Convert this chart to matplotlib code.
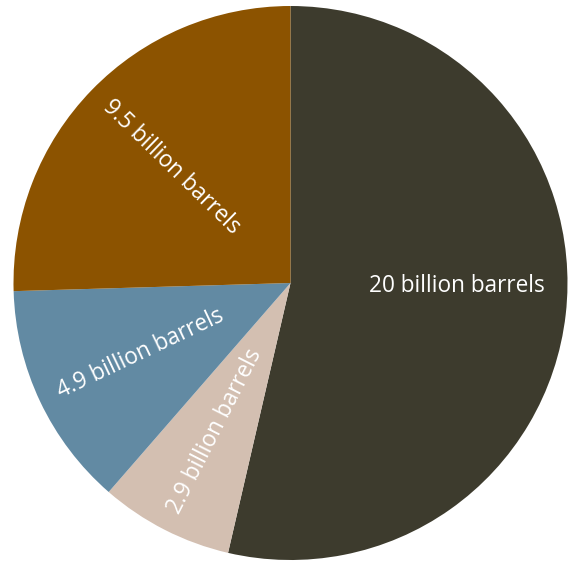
import matplotlib.pyplot as plt

# oil reserves shares
values = [20, 2.9, 4.9, 9.5]
labels = ["20 billion barrels", "2.9 billion barrels", "4.9 billion barrels", "9.5 billion barrels"]
colors = ["#3d3b2d", "#d3bfb1", "#628aa3", "#8c5300"]
rotations = [0, 63, 25.4, -44.2]

plt.rcParams['font.family'] = ['Open Sans', 'DejaVu Sans']

fig = plt.figure(figsize=(5.70, 5.62), dpi=100)
ax = fig.add_axes([13.5 / 570, 2 / 562, 554 / 570, 554 / 562])

wedges, texts = ax.pie(values, labels=labels, colors=colors, startangle=90,
                       counterclock=False, labeldistance=0.6,
                       wedgeprops={"linewidth": 0})
for t, rot in zip(texts, rotations):
    t.set_rotation(rot)
    t.set_rotation_mode("anchor")
    t.set_ha("center")
    t.set_va("center")
    t.set_color("white")
    t.set_fontsize(16.3)

# the big slice label sits about level with the centre
texts[0].set_position((0.6, -0.012))

ax.set_xlim(-1, 1)
ax.set_ylim(-1, 1)
ax.set_aspect("equal")
ax.axis("off")

fig.savefig("out.png", dpi=100)
